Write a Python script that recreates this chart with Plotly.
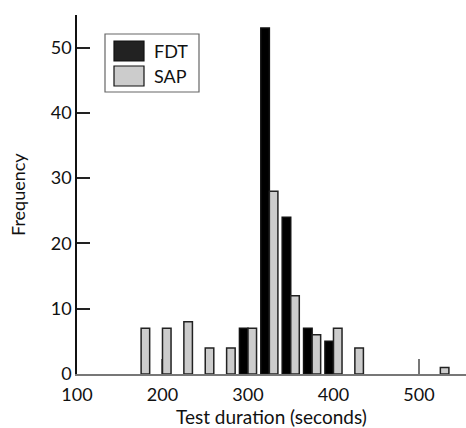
import plotly.graph_objects as go

# Data
bin_centers = [175, 200, 225, 250, 275, 300, 325, 350, 375, 400, 425, 525]
fdt_freq = [0, 0, 0, 0, 0, 7, 53, 24, 7, 5, 0, 0]
sap_freq = [7, 7, 8, 4, 4, 7, 28, 12, 6, 7, 4, 1]
x_ticks = [100, 200, 300, 400, 500]
y_ticks = [0, 10, 20, 30, 40, 50]

W, H = 466, 428
L, R, T, B = 77, 0, 15, 54
FONT = "Lato"

def nz(v):
    return [None if a == 0 else a for a in v]

fig = go.Figure()
fig.add_trace(go.Bar(x=bin_centers, y=nz(fdt_freq), name="FDT",
                     marker=dict(color="#000000", line=dict(color="#111111", width=1.5))))
fig.add_trace(go.Bar(x=bin_centers, y=nz(sap_freq), name="SAP",
                     marker=dict(color="#cccccc", line=dict(color="#222222", width=1.5))))

pw = W - L - R
ph = H - T - B
def px(x):
    return (x - L) / pw
def py(y):
    return (H - B - y) / ph

shapes = [
    dict(type="rect", xref="paper", yref="paper", x0=px(105), x1=px(199), y0=py(92), y1=py(34),
         line=dict(color="#666666", width=1.2), fillcolor="white", layer="above"),
    dict(type="rect", xref="paper", yref="paper", x0=px(114), x1=px(144), y0=py(61), y1=py(41),
         line=dict(color="#111111", width=1.2), fillcolor="#222222", layer="above"),
    dict(type="rect", xref="paper", yref="paper", x0=px(114), x1=px(144), y0=py(86), y1=py(66),
         line=dict(color="#111111", width=1.2), fillcolor="#cccccc", layer="above"),
]
annotations = [
    dict(xref="paper", yref="paper", x=px(152), y=py(51), text="FDT", showarrow=False,
         xanchor="left", yanchor="middle", font=dict(size=18, color="#111", family=FONT)),
    dict(xref="paper", yref="paper", x=px(152), y=py(76), text="SAP", showarrow=False,
         xanchor="left", yanchor="middle", font=dict(size=18, color="#111", family=FONT)),
    dict(xref="paper", yref="paper", x=px(271), y=py(416), text="Test duration (seconds)",
         showarrow=False, xanchor="center", yanchor="middle",
         font=dict(size=19, color="#111", family=FONT)),
    dict(xref="paper", yref="paper", x=px(18), y=py(195), text="Frequency", textangle=-90,
         showarrow=False, xanchor="center", yanchor="middle",
         font=dict(size=18, color="#111", family=FONT)),
]

fig.update_layout(
    width=W, height=H,
    margin=dict(l=L, r=R, t=T, b=B),
    paper_bgcolor="white", plot_bgcolor="white",
    barmode="group", bargap=0.2, bargroupgap=0,
    showlegend=False,
    font=dict(family=FONT, size=17, color="#111"),
    shapes=shapes, annotations=annotations,
)
fig.update_xaxes(range=[100, 555], tickvals=x_ticks, ticks="inside", ticklen=15, tickwidth=2,
                 tickcolor="#777777", showline=True, linecolor="#777777", linewidth=2,
                 showgrid=False, zeroline=False, layer="below traces",
                 ticklabelstandoff=3,
                 tickfont=dict(size=18), automargin=False)
fig.update_yaxes(range=[0, 55], tickvals=y_ticks, ticks="inside", ticklen=13, tickwidth=1.5,
                 tickcolor="#222222", showline=True, linecolor="#111111", linewidth=1.5,
                 showgrid=False, zeroline=False, ticklabelstandoff=0,
                 tickfont=dict(size=18), automargin=False)

fig.write_html("out.html", post_script="document.body.style.margin='0';",
               config={"displayModeBar": False})
